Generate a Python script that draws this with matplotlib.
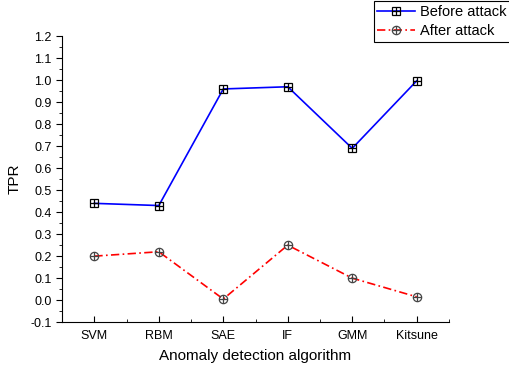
import numpy as np
import matplotlib.pyplot as plt
from matplotlib.legend_handler import HandlerTuple

algorithms = ['SVM', 'RBM', 'SAE', 'IF', 'GMM', 'Kitsune']
before_attack = [0.44, 0.43, 0.96, 0.97, 0.69, 0.997]
after_attack = [0.20, 0.22, 0.005, 0.25, 0.10, 0.015]

plt.rcParams['font.family'] = ['Liberation Sans', 'DejaVu Sans']

fig = plt.figure(figsize=(5.09, 3.69), dpi=100)
ax = fig.add_axes([0.122, 0.127, 0.76, 0.775])

x = np.arange(1, len(algorithms) + 1)

l1, = ax.plot(x, before_attack, color='blue', lw=1.2, marker='s', ms=5.5,
              mfc='none', mec='black', mew=0.9)
p1, = ax.plot(x, before_attack, ls='none', marker='+', ms=5.5, mec='black', mew=0.9)
l2, = ax.plot(x, after_attack, color='red', lw=1.2, ls=(0, (5, 2, 1, 2)),
              marker='o', ms=6, mfc='none', mec='#444444', mew=0.9)
p2, = ax.plot(x, after_attack, ls='none', marker='+', ms=6, mec='#444444', mew=0.9)

ax.set_xlim(0.5, 6.5)
ax.set_ylim(-0.1, 1.2)
ax.set_xticks(x)
ax.set_xticklabels(algorithms)
ax.set_xticks(np.arange(0.5, 6.6, 1), minor=True)
ax.set_yticks(np.round(np.arange(-0.1, 1.21, 0.1), 1))
ax.set_yticklabels(['%.1f' % v for v in np.arange(-0.1, 1.21, 0.1)])
ax.set_yticks(np.arange(-0.05, 1.2, 0.1), minor=True)

ax.spines['top'].set_visible(False)
ax.spines['right'].set_visible(False)
ax.tick_params(axis='x', direction='in', length=4, labelsize=9, pad=6)
ax.tick_params(axis='x', which='minor', direction='in', length=2.5)
ax.tick_params(axis='y', direction='out', length=4, labelsize=9)
ax.tick_params(axis='y', which='minor', direction='out', length=2.5)

ax.set_xlabel('Anomaly detection algorithm', fontsize=11, labelpad=5)
ax.set_ylabel('TPR', fontsize=11, labelpad=6)

leg = fig.legend([(l1, p1), (l2, p2)], ['Before attack', 'After attack'],
                 handler_map={tuple: HandlerTuple(ndivide=1)}, numpoints=1,
                 loc='upper left', bbox_to_anchor=(0.731, 1.0),
                 fontsize=10.5, fancybox=False, edgecolor='black',
                 framealpha=1, handlelength=2.6, borderpad=0.25,
                 labelspacing=0.35, handletextpad=0.35, borderaxespad=0.1)
leg.get_frame().set_linewidth(0.8)

fig.savefig('out.png', dpi=100)
